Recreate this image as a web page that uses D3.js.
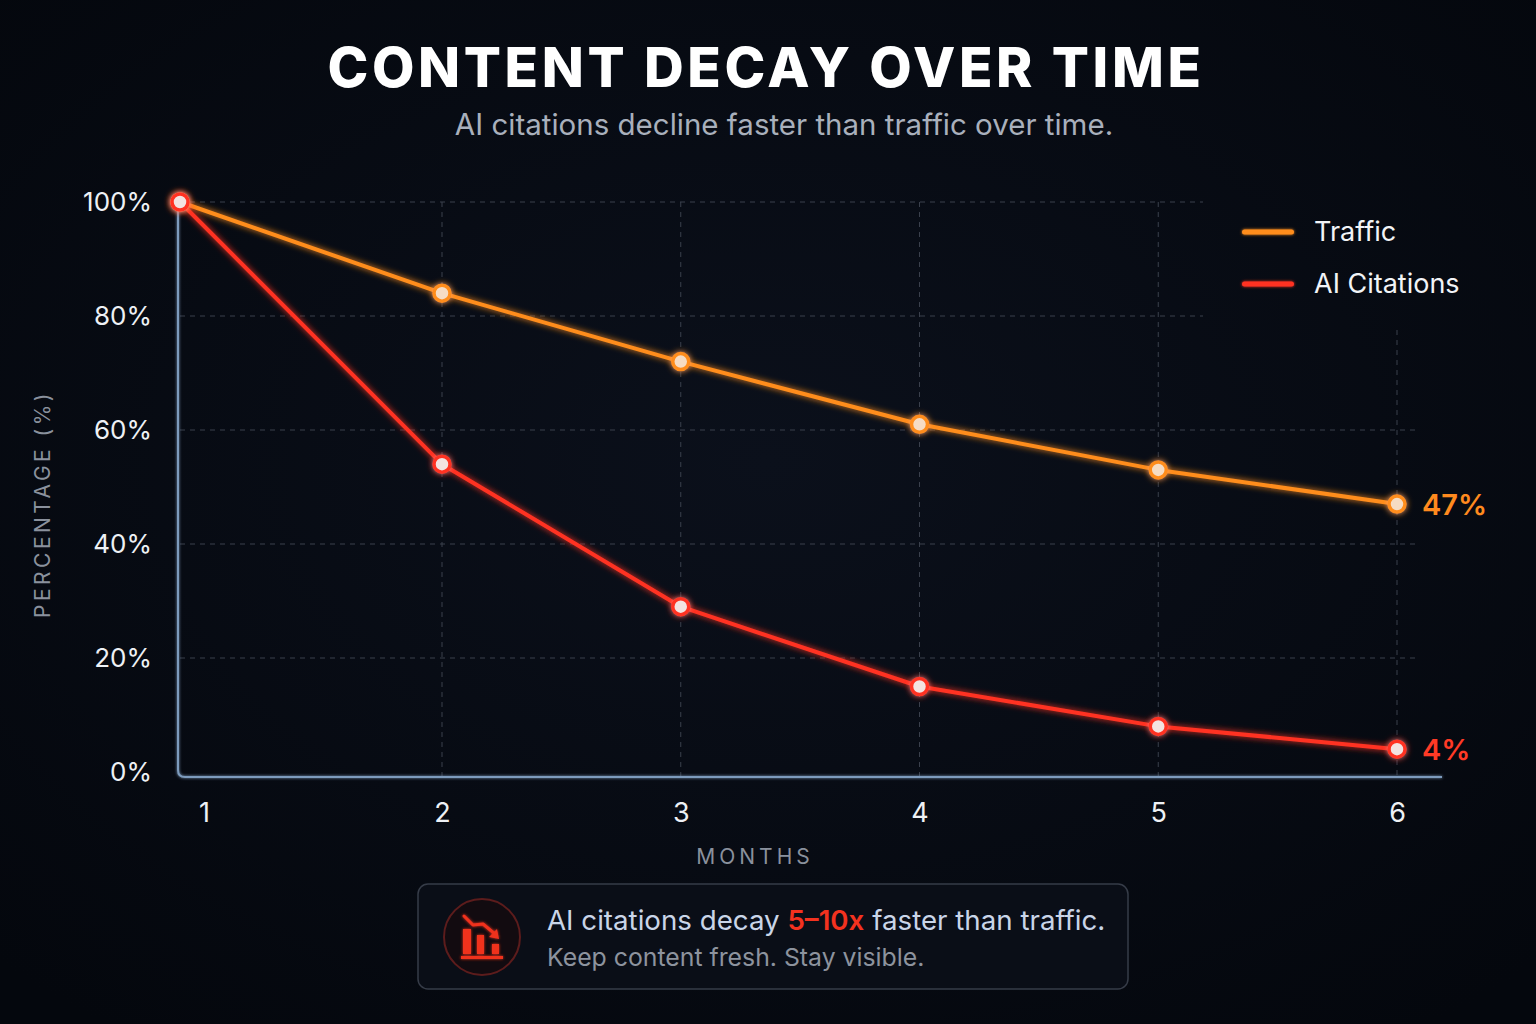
<!DOCTYPE html>
<html>
<head>
<meta charset="utf-8">
<script src="https://cdn.jsdelivr.net/npm/d3@7"></script>
<style>
  html, body { margin: 0; padding: 0; background: #060a12; }
  svg { display: block; font-family: Inter, "Open Sans", sans-serif; }
</style>
</head>
<body>
<div id="chart"></div>
<script>
// data
const months = [1, 2, 3, 4, 5, 6];
const traffic = [100, 84, 72, 61, 53, 47];
const aiCitations = [100, 54, 29, 15, 8, 4];
const yTicks = [0, 20, 40, 60, 80, 100];
const seriesNames = ["Traffic", "AI Citations"];

const W = 1536, H = 1024;
const orange = "#ff8d1c", red = "#ff3322";

const svg = d3.select("#chart").append("svg")
  .attr("width", W).attr("height", H);

const defs = svg.append("defs");
const bg = defs.append("radialGradient").attr("id", "bg")
  .attr("cx", "50%").attr("cy", "45%").attr("r", "70%");
bg.append("stop").attr("offset", "0%").attr("stop-color", "#0b101b");
bg.append("stop").attr("offset", "100%").attr("stop-color", "#04070d");

function addGlow(id, sd) {
  const f = defs.append("filter").attr("id", id)
    .attr("filterUnits", "userSpaceOnUse")
    .attr("x", 0).attr("y", 0).attr("width", W).attr("height", H);
  f.append("feGaussianBlur").attr("stdDeviation", sd).attr("result", "b");
  const m = f.append("feMerge");
  m.append("feMergeNode").attr("in", "b");
  m.append("feMergeNode").attr("in", "SourceGraphic");
}
addGlow("glow", 3);
addGlow("soft", 1.5);

svg.append("rect").attr("width", W).attr("height", H).attr("fill", "url(#bg)");

// title
svg.append("text")
  .attr("x", 766).attr("y", 87)
  .attr("text-anchor", "middle")
  .attr("fill", "#ffffff")
  .attr("font-size", 55).attr("font-weight", 800)
  .attr("letter-spacing", 3.6)
  .text("CONTENT DECAY OVER TIME");

svg.append("text")
  .attr("x", 784).attr("y", 135)
  .attr("text-anchor", "middle")
  .attr("fill", "#a9b0bc")
  .attr("font-size", 29.5)
  .text("AI citations decline faster than traffic over time.");

// scales (month 1 sits a bit wider apart in the reference)
const x = d3.scaleLinear().domain([1, 2, 6]).range([180, 442, 1397]);
const y = d3.scaleLinear().domain([0, 100]).range([772, 202]);

// grid
const grid = svg.append("g")
  .attr("stroke", "#3a404c").attr("stroke-width", 1)
  .attr("stroke-dasharray", "5,5");
yTicks.filter(d => d > 0).forEach(d => {
  grid.append("line")
    .attr("x1", x(1)).attr("x2", d >= 80 ? 1203 : 1420)
    .attr("y1", y(d)).attr("y2", y(d));
});
months.filter(m => m > 1).forEach(m => {
  grid.append("line")
    .attr("x1", x(m)).attr("x2", x(m))
    .attr("y1", m === 6 ? 330 : y(100)).attr("y2", 776);
});

// axes lines
svg.append("path")
  .attr("d", "M178,202 L178,770 Q178,777 185,777 L1442,777")
  .attr("fill", "none").attr("stroke", "#7d9bbd").attr("stroke-width", 2)
  .attr("filter", "url(#soft)");

// y axis ticks
const yAxis = svg.append("g")
  .attr("transform", "translate(152,0)")
  .call(d3.axisLeft(y).tickValues(yTicks).tickFormat(d => d + "%").tickSize(0).tickPadding(0));
yAxis.select(".domain").remove();
yAxis.selectAll("text")
  .attr("fill", "#eef1f5").attr("font-size", 26)
  .attr("font-family", "Inter, sans-serif");

// x axis ticks
const xAxis = svg.append("g")
  .attr("transform", "translate(0,803)")
  .call(d3.axisBottom(x).tickValues(months).tickFormat(d3.format("d")).tickSize(0).tickPadding(0));
xAxis.select(".domain").remove();
xAxis.selectAll("text")
  .attr("fill", "#eef1f5").attr("font-size", 27)
  .attr("font-family", "Inter, sans-serif")
  .attr("dx", d => d === 1 ? 24 : 0);

// axis titles
svg.append("text")
  .attr("transform", "translate(50,504) rotate(-90)")
  .attr("text-anchor", "middle")
  .attr("fill", "#8a919d").attr("font-size", 21)
  .attr("letter-spacing", 3.5)
  .text("PERCENTAGE (%)");

svg.append("text")
  .attr("x", 755).attr("y", 864)
  .attr("text-anchor", "middle")
  .attr("fill", "#8a919d").attr("font-size", 21)
  .attr("letter-spacing", 4)
  .text("MONTHS");

// lines
const line = d3.line().x((d, i) => x(months[i])).y(d => y(d));
const series = [
  { name: seriesNames[0], values: traffic, color: orange },
  { name: seriesNames[1], values: aiCitations, color: red }
];

series.forEach(s => {
  svg.append("path")
    .datum(s.values)
    .attr("fill", "none")
    .attr("stroke", s.color).attr("stroke-width", 4)
    .attr("stroke-linejoin", "round")
    .attr("filter", "url(#glow)")
    .attr("d", line);
});

// points
series.forEach(s => {
  svg.append("g").selectAll("circle")
    .data(s.values)
    .enter()
    .append("circle")
    .attr("cx", (d, i) => x(months[i]))
    .attr("cy", d => y(d))
    .attr("r", 8)
    .attr("fill", s.name === "Traffic" ? "#f6dcc4" : "#f3e3e1")
    .attr("stroke", s.color).attr("stroke-width", 3.5)
    .attr("filter", "url(#glow)");
});

// end labels
series.forEach(s => {
  const last = s.values[s.values.length - 1];
  svg.append("text")
    .attr("x", 1422).attr("y", y(last))
    .attr("dy", "0.36em")
    .attr("fill", s.color === orange ? "#ff8a1e" : "#ff3a26")
    .attr("font-size", 29).attr("font-weight", 600)
    .text(last + "%");
});

// legend
const legend = svg.append("g");
series.forEach((s, i) => {
  const ly = 232 + i * 52;
  legend.append("rect")
    .attr("x", 1242).attr("y", ly - 2.5)
    .attr("width", 52).attr("height", 5).attr("rx", 2.5)
    .attr("fill", s.color)
    .attr("filter", "url(#soft)");
  legend.append("text")
    .attr("x", 1314).attr("y", ly)
    .attr("dy", "0.35em")
    .attr("fill", "#f2f4f7").attr("font-size", 27)
    .text(s.name);
});

// callout box
const box = svg.append("g");
box.append("rect")
  .attr("x", 418).attr("y", 884)
  .attr("width", 710).attr("height", 105)
  .attr("rx", 10)
  .attr("fill", "#0a0e17")
  .attr("stroke", "#363c48").attr("stroke-width", 1.5);

box.append("circle")
  .attr("cx", 482).attr("cy", 937).attr("r", 38)
  .attr("fill", "#120b10")
  .attr("stroke", "#5c1c1c").attr("stroke-width", 2);

const icon = box.append("g").attr("fill", "#f0301e").attr("filter", "url(#soft)");
icon.append("rect").attr("x", 463).attr("y", 929).attr("width", 8).attr("height", 25);
icon.append("rect").attr("x", 477).attr("y", 935).attr("width", 7).attr("height", 19);
icon.append("rect").attr("x", 492).attr("y", 944).attr("width", 7).attr("height", 10);
icon.append("rect").attr("x", 461).attr("y", 956).attr("width", 42).attr("height", 3);
icon.append("path")
  .attr("d", "M464,916 L473,925 L483,924 L495,934")
  .attr("fill", "none").attr("stroke", "#f0301e").attr("stroke-width", 3)
  .attr("stroke-linecap", "round").attr("stroke-linejoin", "round");
icon.append("path")
  .attr("d", "M499,939 L489,937 L497,929 Z");

const t1 = box.append("text")
  .attr("x", 547).attr("y", 930)
  .attr("font-size", 27.7).attr("fill", "#c9d5e8");
t1.append("tspan").text("AI citations decay ");
t1.append("tspan").attr("fill", "#f3321f").attr("font-weight", 600).text("5–10x");
t1.append("tspan").text(" faster than traffic.");

box.append("text")
  .attr("x", 547).attr("y", 966)
  .attr("font-size", 24.8).attr("fill", "#8d939e")
  .text("Keep content fresh. Stay visible.");
</script>
</body>
</html>
